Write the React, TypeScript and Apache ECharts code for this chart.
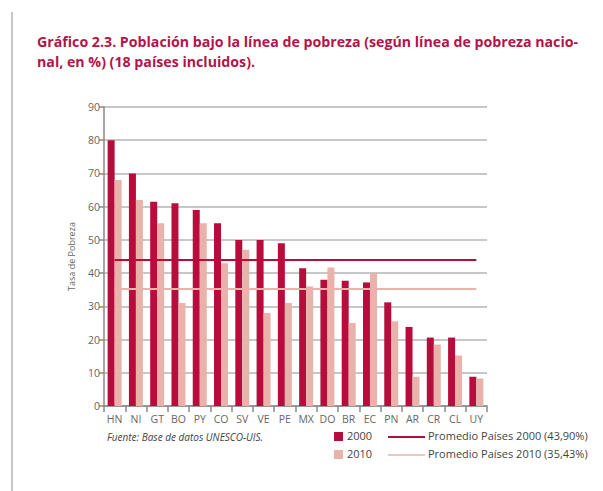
import React, { useEffect, useRef } from "react";
import * as echarts from "echarts";

const categories = ["HN", "NI", "GT", "BO", "PY", "CO", "SV", "VE", "PE", "MX", "DO", "BR", "EC", "PN", "AR", "CR", "CL", "UY"];
const values2000 = [80, 70, 61.5, 61, 59, 55, 50, 50, 49, 41.5, 38, 37.7, 37.2, 31.2, 23.8, 20.6, 20.6, 8.8];
const values2010 = [68, 62, 55, 31, 55, 43, 47, 28, 31, 36, 41.7, 25, 40, 25.5, 8.8, 18.5, 15.2, 8.3];
const avg2000 = 43.9;
const avg2010 = 35.43;
const yTicks = { min: 0, max: 90, interval: 10 };

const C2000 = "#b80c3c";
const C2010 = "#e9b3ab";
const TITLE_C = "#b3144a";
const FONT = "'Open Sans', 'Noto Sans', sans-serif";

export default function App() {
  const ref = useRef<HTMLDivElement>(null);
  useEffect(() => {
    if (!ref.current) return;
    const chart = echarts.init(ref.current, null, { renderer: "svg" });
    const first = categories[0];
    const last = categories[categories.length - 1];
    chart.setOption({
      animation: false,
      backgroundColor: "#ffffff",
      grid: { left: 104, right: 116, top: 107, bottom: 85 },
      xAxis: {
        type: "category",
        data: categories,
        axisLine: { lineStyle: { color: "#888", width: 1.5 } },
        axisTick: { show: true, length: 6, lineStyle: { color: "#888", width: 1.5 } },
        axisLabel: { color: "#666", fontSize: 10.5, fontFamily: FONT, margin: 7, interval: 0 },
      },
      yAxis: {
        type: "value",
        min: yTicks.min,
        max: yTicks.max,
        interval: yTicks.interval,
        name: "Tasa de Pobreza",
        nameLocation: "middle",
        nameGap: 28,
        nameTextStyle: { color: "#666", fontSize: 9, fontFamily: FONT },
        axisLine: { show: true, lineStyle: { color: "#888", width: 1.5 } },
        axisTick: { show: true, length: 5, lineStyle: { color: "#888", width: 1.5 } },
        axisLabel: { color: "#666", fontSize: 10.5, fontFamily: FONT, margin: 4 },
        splitLine: { lineStyle: { color: "#b4b4b4", width: 1.5 } },
      },
      series: [
        {
          name: "2000",
          type: "bar",
          data: values2000,
          itemStyle: { color: C2000 },
          barWidth: 7,
          barGap: "0%",
          z: 2,
        },
        {
          name: "2010",
          type: "bar",
          data: values2010,
          itemStyle: { color: C2010 },
          barWidth: 7,
          z: 2,
        },
        {
          name: "Promedios",
          type: "line",
          data: [],
          silent: true,
          z: 5,
          markLine: {
            symbol: "none",
            silent: true,
            label: { show: false },
            data: [
              [
                { coord: [first, avg2000], lineStyle: { color: C2000, width: 2, type: "solid" } },
                { coord: [last, avg2000] },
              ],
              [
                { coord: [first, avg2010], lineStyle: { color: C2010, width: 2, type: "solid" } },
                { coord: [last, avg2010] },
              ],
            ],
          },
        },
      ],
      graphic: [
        { type: "line", shape: { x1: 12, y1: 12, x2: 12, y2: 491 }, style: { stroke: "#c8c8c8", lineWidth: 2 } },
        {
          type: "text",
          left: 37,
          top: 31,
          style: {
            text: "Gráfico 2.3. Población bajo la línea de pobreza (según línea de pobreza nacio-\nnal, en %) (18 países incluidos).",
            fill: TITLE_C,
            font: "bold 14.2px 'Liberation Sans Narrow', 'Open Sans', sans-serif",
            lineHeight: 20,
          },
        },
        {
          type: "text",
          left: 107,
          top: 432,
          style: { text: "Fuente: Base de datos UNESCO-UIS.", fill: "#444", font: "italic 10px " + FONT },
        },
        { type: "rect", shape: { x: 334, y: 432, width: 9, height: 9 }, style: { fill: C2000 } },
        { type: "text", left: 347, top: 430, style: { text: "2000", fill: "#444", font: "11px " + FONT } },
        { type: "rect", shape: { x: 334, y: 450, width: 9, height: 9 }, style: { fill: C2010 } },
        { type: "text", left: 347, top: 448, style: { text: "2010", fill: "#444", font: "11px " + FONT } },
        { type: "line", shape: { x1: 388, y1: 437, x2: 425, y2: 437 }, style: { stroke: C2000, lineWidth: 2 } },
        { type: "text", left: 428, top: 430, style: { text: "Promedio Países 2000 (43,90%)", fill: "#444", font: "11px " + FONT } },
        { type: "line", shape: { x1: 388, y1: 455, x2: 425, y2: 455 }, style: { stroke: C2010, lineWidth: 1.5 } },
        { type: "text", left: 428, top: 448, style: { text: "Promedio Países 2010 (35,43%)", fill: "#444", font: "11px " + FONT } },
      ],
    });
    return () => chart.dispose();
  }, []);
  return <div ref={ref} style={{ width: 603, height: 491, position: "absolute", left: 0, top: 0 }} />;
}
